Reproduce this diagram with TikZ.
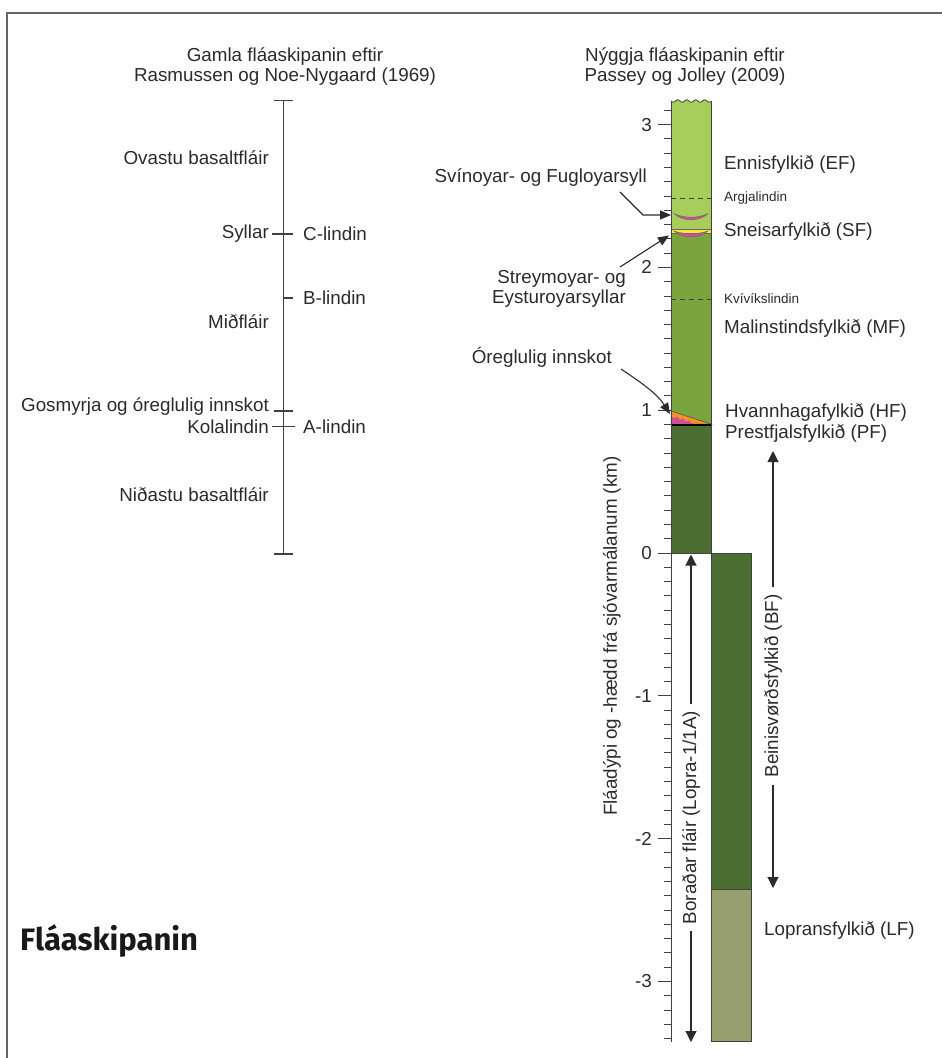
\documentclass[tikz,border=0pt]{standalone}
\usepackage{fontspec}
\setmainfont{Liberation Sans}
\newfontfamily\firabold{Fira Sans}[UprightFont=* Bold]
\usetikzlibrary{arrows.meta}
\definecolor{txt}{HTML}{2B2B2B}
\definecolor{efc}{HTML}{A7CD5B}
\definecolor{mfc}{HTML}{79A43E}
\definecolor{pfc}{HTML}{4B6F31}
\definecolor{lfc}{HTML}{979F6E}
\definecolor{sfc}{HTML}{F5EA3C}
\definecolor{magc}{HTML}{D14E9B}
\definecolor{orc}{HTML}{F39027}
\definecolor{framec}{HTML}{666666}
\begin{document}
\begin{tikzpicture}[x=1pt,y=-1pt,
  lbl/.style={inner sep=0pt, text=txt, font=\fontsize{18.8}{20}\selectfont},
  small/.style={inner sep=0pt, text=txt, font=\fontsize{13.5}{15}\selectfont},
  col/.style={draw=black!75, line width=0.8pt},
  axisline/.style={draw=black!75, line width=0.9pt},
  leader/.style={draw=txt, line width=1.1pt, -{Triangle[length=11pt,width=9pt]}},
  bigarrow/.style={draw=txt, line width=1.1pt, -{Triangle[length=11pt,width=11pt]}},
  lensline/.style={draw=black!60, line width=0.4pt}]
\useasboundingbox (0,0) rectangle (942,1058);
% frame
\draw[framec, line width=1.5pt] (7,1058) -- (7,13) -- (942,13);

% ---------- left (old) scheme ----------
\node[lbl, align=center] (oldhead) at (285,67) {Gamla fláaskipanin eftir\\Rasmussen og Noe-Nygaard (1969)};
\coordinate (otop) at (283.3,100.7);
\coordinate (obot) at (283.3,554);
\draw[axisline, line width=1.2pt] (otop) -- (obot);
\draw[axisline, line width=1.2pt] (274,100.7) -- (293,100.7);
\draw[axisline, line width=1.2pt] (274,554) -- (293,554);
\draw[axisline, line width=1.2pt] (272,234) -- (293,234);
\draw[axisline, line width=1.2pt] (283.3,298) -- (293,298);
\draw[axisline, line width=1.2pt] (274,411) -- (293,411);
\draw[axisline, line width=1.2pt] (272,426.7) -- (295,426.7);
\node[lbl, anchor=east] (ovastu) at (269,158) {Ovastu basaltfláir};
\node[lbl, anchor=east] (syllar) at (269,234) {Syllar};
\node[lbl, anchor=west] (clind) at (303,234) {C-lindin};
\node[lbl, anchor=west] (blind) at (303,298) {B-lindin};
\node[lbl, anchor=east] (midf) at (269,322) {Miðfláir};
\node[lbl, anchor=east] (gosm) at (269,407) {Gosmyrja og óreglulig innskot};
\node[lbl, anchor=east] (kola) at (269,427) {Kolalindin};
\node[lbl, anchor=west] (alind) at (303,427) {A-lindin};
\node[lbl, anchor=east] (nidast) at (269,495) {Niðastu basaltfláir};

\node[inner sep=0pt, text=black!90, anchor=west, font=\firabold\fontsize{31}{33}\selectfont] (title) at (20,941) {Fláaskipanin};

% ---------- right (new) scheme ----------
\node[lbl, align=center] (newhead) at (685,67) {Nýggja fláaskipanin eftir\\Passey og Jolley (2009)};

% upper column fills
\fill[efc] (671,229) -- (671,101) -- plot[domain=671:711,samples=41] (\x,{101+1.2*sin((\x-671)*40)}) -- (711,229) -- cycle;
\fill[mfc] (671,233.5) rectangle (711,424.5);
\fill[pfc] (671,424.5) rectangle (711,553);
\fill[sfc] (671,229) rectangle (711,233.5);
\draw[black!60, line width=0.5pt] (671,229) -- (711,229);
\draw[black!60, line width=0.5pt] (671,233.5) -- (711,233.5);
% lenses
\filldraw[fill=magc, lensline] (674,213.5) .. controls (684,218.5) and (698,218.5) .. (708,213.5) .. controls (699,222) and (683,222) .. cycle;
\filldraw[fill=magc, lensline] (674,231) .. controls (684,234.5) and (698,234.5) .. (708,231) .. controls (699,239) and (683,239) .. cycle;
% HF wedge
\filldraw[fill=orc, draw=black!70, line width=0.5pt] (671,411) -- (711,424) -- (671,424) -- cycle;
\fill[magc] (671,416) -- (674,418.5) -- (677,416.5) -- (680,420) -- (683,418.5) -- (686,421.5) -- (689,420.5) -- (692,423.5) -- (695,424) -- (671,424) -- cycle;
\draw[black, line width=2pt] (671,424.5) -- (711,424.5);
% dashed boundaries
\draw[black!75, line width=0.8pt, dash pattern=on 5pt off 4pt] (671,198.3) -- (711,198.3);
\draw[black!75, line width=0.8pt, dash pattern=on 5pt off 4pt] (671,299.3) -- (711,299.3);
% upper column outline
\draw[col] (671,553) -- (671,101);
\draw[col] (711,101) -- (711,553);
\draw[col] plot[domain=671:711,samples=41] (\x,{101+1.2*sin((\x-671)*40)});
\draw[col] (658,553) -- (711,553);

% lower column (BF, LF)
\fill[pfc] (711,553) rectangle (751,889.5);
\fill[lfc] (711,889.5) rectangle (751,1041.5);
\draw[col] (711,553) rectangle (751,1041.5);
\draw[col] (711,889.5) -- (751,889.5);

% axis
\draw[axisline] (671,553) -- (671,1041.5);
\foreach \k in {-34,...,31}{
  \pgfmathsetmacro{\yy}{553-14.28*\k}
  \pgfmathtruncatemacro{\m}{mod(abs(\k),10)}
  \ifnum\m=0
    \draw[axisline] (658,\yy) -- (671,\yy);
  \else
    \draw[axisline] (664,\yy) -- (671,\yy);
  \fi
}
\foreach \n/\nm in {3/a,2/b,1/c,0/d,-1/e,-2/f,-3/g}{
  \node[lbl, anchor=east] (num\nm) at (652,{553-142.8*\n}) {\n};
}
\node[lbl, rotate=90, anchor=west] (yaxis) at (612,816) {Fláadýpi og -hædd frá sjóvarmálanum (km)};

% formation labels
\node[lbl, anchor=west] (ef) at (724,164) {Ennisfylkið (EF)};
\node[small, anchor=west] (argj) at (724,198) {Argjalindin};
\node[lbl, anchor=west] (sf) at (724,231) {Sneisarfylkið (SF)};
\node[small, anchor=west] (kviv) at (724,299) {Kvívíkslindin};
\node[lbl, anchor=west] (mf) at (724,328) {Malinstindsfylkið (MF)};
\node[lbl, anchor=west] (hf) at (725,412) {Hvannhagafylkið (HF)};
\node[lbl, anchor=west] (pf) at (725,433) {Prestfjalsfylkið (PF)};
\node[lbl, anchor=west] (lf) at (764,930) {Lopransfylkið (LF)};

% leader labels and arrows
\node[lbl, anchor=east] (svin) at (647,178) {Svínoyar- og Fugloyarsyll};
\coordinate (svinA) at (620,192);
\coordinate (svinT) at (671,215);
\draw[leader] (svinA) -- (643,215) -- (svinT);

\node[lbl, anchor=east, align=right] (streym) at (626,289) {Streymoyar- og\\Eysturoyarsyllar};
\coordinate (strA) at (620,267);
\coordinate (strT) at (669,235.5);
\draw[leader] (strA) -- (strT);

\node[lbl, anchor=east] (oregl) at (612,357) {Óreglulig innskot};
\coordinate (orA) at (621,369);
\coordinate (orT) at (670,414);
\draw[leader] (orA) .. controls (645,385) and (658,395) .. (orT);

% vertical range arrows
\node[lbl, rotate=90, inner xsep=7pt] (bor) at (691,817.5) {Boraðar fláir (Lopra-1/1A)};
\coordinate (borT) at (691,554.5);
\coordinate (borB) at (691,1042);
\draw[bigarrow] (bor.east) -- (borT);
\draw[bigarrow] (bor.west) -- (borB);

\node[lbl, rotate=90, inner xsep=7pt] (bf) at (773,686) {Beinisvørðsfylkið (BF)};
\coordinate (bfT) at (773,451);
\coordinate (bfB) at (773,888);
\draw[bigarrow] (bf.east) -- (bfT);
\draw[bigarrow] (bf.west) -- (bfB);
\end{tikzpicture}
\end{document}
